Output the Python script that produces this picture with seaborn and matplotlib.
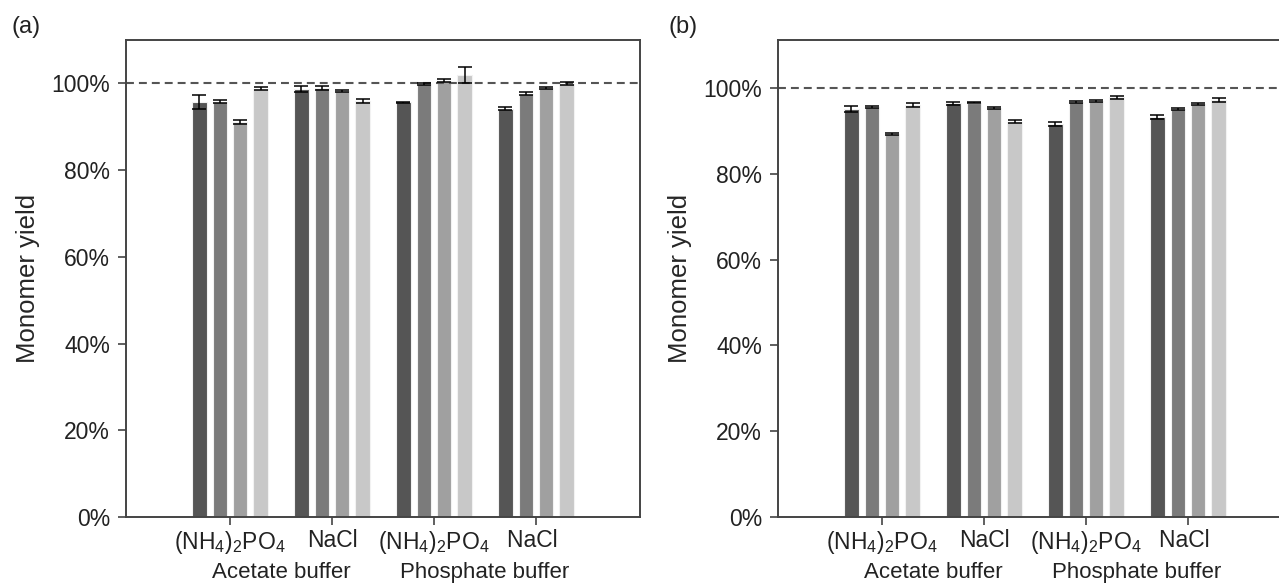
import numpy as np
import pandas as pd
import seaborn as sns
import matplotlib.pyplot as plt
import matplotlib.transforms as mtrans

salts = ["(NH$_4$)$_2$PO$_4$", "NaCl", "(NH$_4$)$_2$PO$_4$ ", "NaCl "]
buffers = ["Acetate buffer", "Phosphate buffer"]
series = ["s1", "s2", "s3", "s4"]
colors = ["#555555", "#7b7b7b", "#a0a0a0", "#c8c8c8"]

# panel (a): one list per series, values across the four salt groups (%)
a_s1 = [95.7, 98.6, 95.6, 94.2]
a_s2 = [95.8, 98.9, 99.9, 97.6]
a_s3 = [91.1, 98.2, 100.6, 98.9]
a_s4 = [98.8, 95.9, 101.9, 99.9]
a_e1 = [1.7, 0.7, 0.2, 0.3]
a_e2 = [0.3, 0.4, 0.2, 0.3]
a_e3 = [0.4, 0.2, 0.3, 0.2]
a_e4 = [0.3, 0.4, 1.8, 0.3]

# panel (b)
b_s1 = [95.0, 96.4, 91.6, 93.3]
b_s2 = [95.6, 96.6, 96.7, 95.1]
b_s3 = [89.3, 95.3, 97.0, 96.3]
b_s4 = [96.0, 92.2, 97.8, 97.2]
b_e1 = [0.7, 0.4, 0.4, 0.5]
b_e2 = [0.3, 0.2, 0.2, 0.2]
b_e3 = [0.3, 0.3, 0.2, 0.3]
b_e4 = [0.4, 0.3, 0.3, 0.4]

sns.set_style("white")
plt.rcParams["font.family"] = ["Liberation Sans", "DejaVu Sans"]
plt.rcParams["mathtext.default"] = "regular"
plt.rcParams["text.color"] = "#222222"


def make_df(vals):
    rows = []
    for s, v in zip(series, vals):
        for salt, y in zip(salts, v):
            rows.append({"salt": salt, "series": s, "yield": y})
    return pd.DataFrame(rows)


def draw(ax, vals, errs, ytop, tag, tagx):
    df = make_df(vals)
    sns.barplot(data=df, x="salt", y="yield", hue="series", order=salts,
                hue_order=series, palette=colors, width=0.8, gap=0.3,
                errorbar=None, legend=False, ax=ax,
                edgecolor="#f2f2f2", linewidth=0.8)
    for cont, e in zip(ax.containers, errs):
        xs = [b.get_x() + b.get_width() / 2 for b in cont]
        ys = [b.get_height() for b in cont]
        ax.errorbar(xs, ys, yerr=e, fmt="none", ecolor="black",
                    elinewidth=1.1, capsize=5, capthick=1.1, zorder=5)
    ax.axhline(100, color="#555555", lw=1.5, ls=(0, (3.8, 2.4)), zorder=1)
    ax.set_xlim(-1.02, 4.02)
    ax.set_ylim(0, ytop)
    ax.set_yticks([0, 20, 40, 60, 80, 100])
    ax.set_yticklabels([f"{t}%" for t in [0, 20, 40, 60, 80, 100]])
    ax.set_xlabel("")
    ax.set_ylabel("Monomer yield", fontsize=18.5, labelpad=8)
    ax.tick_params(axis="both", labelsize=16.5, direction="out", length=5.5,
                   width=1.2, color="#444444", left=True, bottom=True,
                   labelcolor="#222222")
    ax.tick_params(axis="y", pad=6)
    ax.tick_params(axis="x", pad=3)
    for sp in ax.spines.values():
        sp.set_color("#444444")
        sp.set_linewidth(1.4)
    trans = mtrans.blended_transform_factory(ax.transData, ax.transAxes)
    ax.text(0.5, -0.116, buffers[0], transform=trans, ha="center",
            va="center", fontsize=16)
    ax.text(2.5, -0.116, buffers[1], transform=trans, ha="center",
            va="center", fontsize=16)
    ax.text(tagx, 1.027, tag, transform=ax.transAxes, ha="left",
            va="center", fontsize=17)


fig = plt.figure(figsize=(12.79, 5.85), dpi=100)
ax1 = fig.add_axes([126 / 1279, 1 - 517 / 585, 514 / 1279, 477 / 585])
ax2 = fig.add_axes([778 / 1279, 1 - 517 / 585, 514 / 1279, 477 / 585])

draw(ax1, [a_s1, a_s2, a_s3, a_s4], [a_e1, a_e2, a_e3, a_e4], 110, "(a)", -0.222)
draw(ax2, [b_s1, b_s2, b_s3, b_s4], [b_e1, b_e2, b_e3, b_e4], 111.2, "(b)", -0.214)

fig.savefig("out.png", dpi=100)
